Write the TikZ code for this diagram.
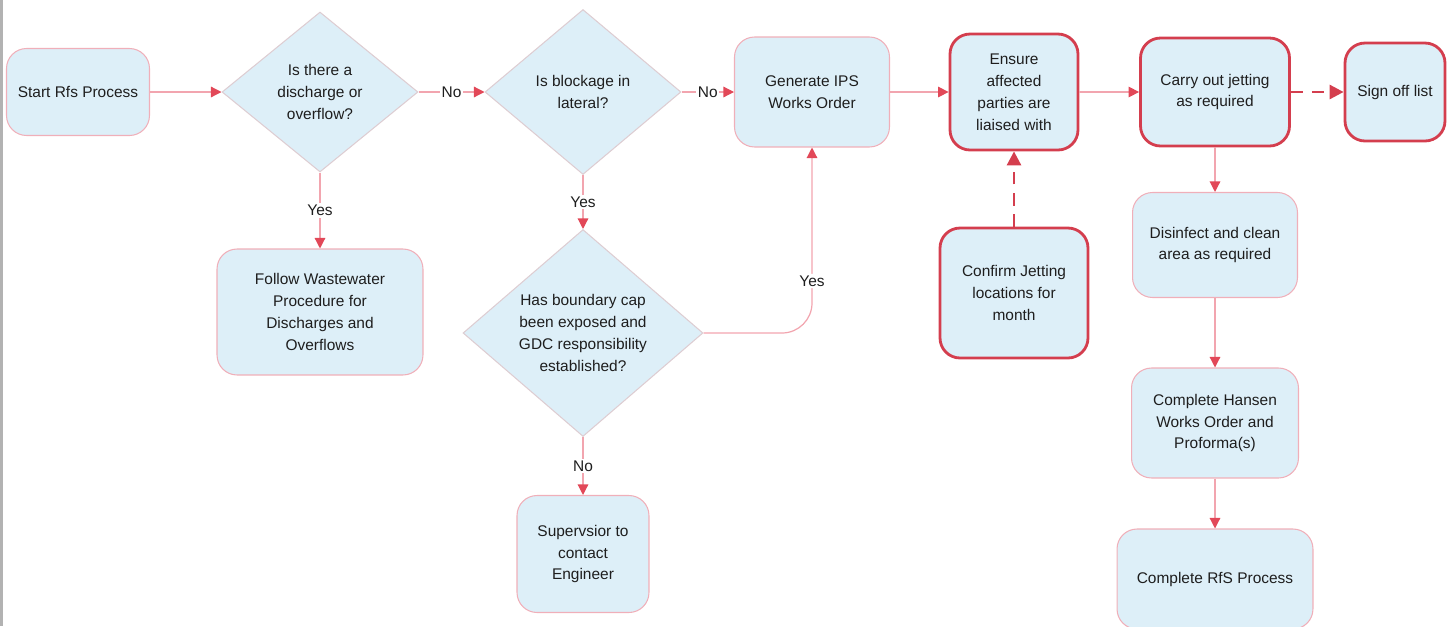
\documentclass[tikz,border=0pt]{standalone}
\usepackage{fontspec}
\setmainfont{Liberation Sans}
\usetikzlibrary{shapes.geometric, arrows.meta}
\definecolor{boxblue}{RGB}{221,239,248}
\definecolor{thinpink}{RGB}{240,175,185}
\definecolor{boxred}{RGB}{212,62,78}
\definecolor{linepink}{RGB}{242,165,175}
\definecolor{tipred}{RGB}{226,72,88}
\definecolor{diagray}{RGB}{222,205,210}
\definecolor{inkdark}{RGB}{30,30,30}

\begin{document}
\begin{tikzpicture}[x=0.02cm, y=-0.02cm, font=\fontsize{8.8}{12.5}\selectfont, text=inkdark,
    stepbox/.style={draw=thinpink, line width=0.6pt, fill=boxblue, rounded corners=0.4cm, align=center, inner sep=2pt},
    keybox/.style={stepbox, draw=boxred, line width=1.6pt},
    choice/.style={diamond, draw=diagray, line width=0.6pt, fill=boxblue, align=center, inner sep=0pt},
    flow/.style={draw=linepink, line width=0.7pt, -{Triangle[length=6pt, width=6pt, color=tipred]}},
    dashflow/.style={draw=boxred, line width=1.6pt, dash pattern=on 7pt off 5pt, -{Triangle[length=8pt, width=8pt]}},
    lbl/.style={fill=white, inner sep=1pt}]
        \useasboundingbox (0,0) rectangle (1451,626);
        \draw[gray!60, line width=2pt] (1.5,0) -- (1.5,626);

        % top row
        \node[stepbox, minimum width=2.86cm, minimum height=1.74cm] (start) at (78,92) {Start Rfs Process};
        \node[choice, minimum width=3.92cm, minimum height=3.2cm] (discharge) at (320,92) {Is there a\\discharge or\\overflow?};
        \node[choice, minimum width=3.92cm, minimum height=3.3cm] (lateral) at (583,92) {Is blockage in\\lateral?};
        \node[stepbox, minimum width=3.1cm, minimum height=2.2cm] (ips) at (812,92) {Generate IPS\\Works Order};
        \node[keybox, minimum width=2.56cm, minimum height=2.32cm] (liaise) at (1014,92) {Ensure\\affected\\parties are\\liaised with};
        \node[keybox, minimum width=2.98cm, minimum height=2.16cm] (jetting) at (1215,92) {Carry out jetting\\as required};
        \node[keybox, minimum width=2.0cm, minimum height=1.96cm] (signoff) at (1395,92) {Sign off list};

        % lower nodes
        \node[stepbox, minimum width=4.12cm, minimum height=2.52cm] (wastewater) at (320,312) {Follow Wastewater\\Procedure for\\Discharges and\\Overflows};
        \node[choice, aspect=1.16, minimum width=4.8cm, minimum height=4.14cm] (boundary) at (583,333) {Has boundary cap\\been exposed and\\GDC responsibility\\established?};
        \node[stepbox, minimum width=2.64cm, minimum height=2.34cm] (engineer) at (583,554) {Supervsior to\\contact\\Engineer};
        \node[keybox, minimum width=2.96cm, minimum height=2.6cm] (confirm) at (1014,293) {Confirm Jetting\\locations for\\month};
        \node[stepbox, minimum width=3.3cm, minimum height=2.1cm] (disinfect) at (1215,245) {Disinfect and clean\\area as required};
        \node[stepbox, minimum width=3.34cm, minimum height=2.2cm] (hansen) at (1215,423) {Complete Hansen\\Works Order and\\Proforma(s)};
        \node[stepbox, minimum width=3.92cm, minimum height=2.0cm] (finish) at (1215,579) {Complete RfS Process};

        \draw[flow] (start) -- (discharge);
        \draw[flow] (discharge) -- node[lbl] {No} (lateral);
        \draw[flow] (lateral) -- node[lbl] {No} (ips);
        \draw[flow] (ips) -- (liaise);
        \draw[flow] (liaise) -- (jetting);
        \draw[dashflow] (jetting) -- (signoff);
        \draw[flow] (discharge) -- node[lbl] {Yes} (wastewater);
        \draw[flow] (lateral) -- node[lbl] {Yes} (boundary);
        \draw[flow] (boundary) -- node[lbl] {No} (engineer);
        \draw[flow, rounded corners=0.6cm] (boundary.east) -| node[lbl, pos=0.64] {Yes} (ips.south);
        \draw[dashflow] (confirm) -- (liaise);
        \draw[flow] (jetting) -- (disinfect);
        \draw[flow] (disinfect) -- (hansen);
        \draw[flow] (hansen) -- (finish);
      \end{tikzpicture}
\end{document}
